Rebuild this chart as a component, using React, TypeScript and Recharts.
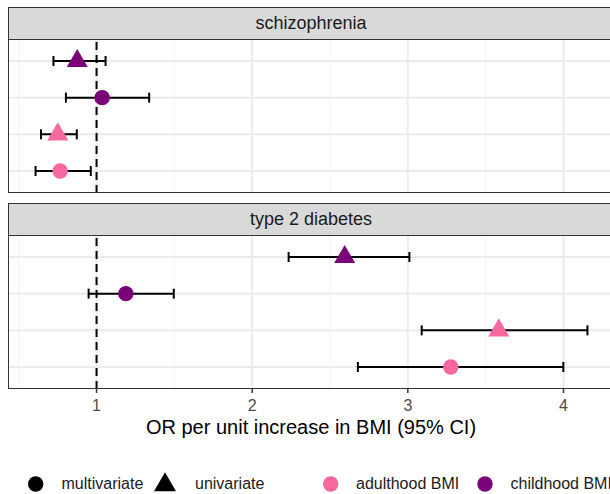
import React from 'react';
import { ScatterChart, Scatter, XAxis, YAxis, CartesianGrid, ReferenceLine, ErrorBar } from 'recharts';

// ---- data ----
const exposures = ['adulthood BMI', 'adulthood BMI', 'childhood BMI', 'childhood BMI'];
const methods = ['multivariate', 'univariate', 'multivariate', 'univariate'];

const schizoOR = [0.766, 0.751, 1.036, 0.876];
const schizoLo = [0.608, 0.643, 0.803, 0.723];
const schizoHi = [0.963, 0.873, 1.338, 1.058];

const t2dOR = [3.276, 3.584, 1.188, 2.594];
const t2dLo = [2.679, 3.089, 0.949, 2.234];
const t2dHi = [3.999, 4.154, 1.496, 3.010];

const panelTitles = ['schizophrenia', 'type 2 diabetes'];
const xTicks = [1, 2, 3, 4];
const xMinor = [0.5, 1.5, 2.5, 3.5, 4.5];
const rowTicks = [1, 2, 3, 4];
const shapeLegend = ['multivariate', 'univariate'];
const colourLegend = ['adulthood BMI', 'childhood BMI'];
const axisTitle = 'OR per unit increase in BMI (95% CI)';

// ---- style ----
const COLORS: Record<string, string> = { 'adulthood BMI': '#F768A1', 'childhood BMI': '#7A0177' };
const X_DOMAIN: [number, number] = [0.431, 4.331];
const Y_DOMAIN: [number, number] = [0.4, 4.6];
const FONT = '"Liberation Sans", Arial, Helvetica, sans-serif';
const PLOT_LEFT = 7.5;
const PLOT_W = 607;
const PLOT_H = 154;
const STRIP_H = 32;
const AXIS_H = 40;

function triPoints(cx: number, cy: number, side: number) {
  const h = (side * Math.sqrt(3)) / 2;
  return `${cx},${cy - (2 * h) / 3} ${cx - side / 2},${cy + h / 3} ${cx + side / 2},${cy + h / 3}`;
}

const Marker = (props: any) => {
  const { cx, cy, payload } = props;
  if (cx == null || cy == null) return <g />;
  const fill = COLORS[payload.exposure];
  if (payload.method === 'univariate') {
    return <polygon points={triPoints(cx, cy, 21)} fill={fill} />;
  }
  return <circle cx={cx} cy={cy} r={7.7} fill={fill} />;
};

const Empty = () => <g />;

function Panel({ title, top, or, lo, hi, showAxis }: any) {
  const data = or.map((v: number, i: number) => ({
    x: v,
    y: i + 1,
    err: [v - lo[i], hi[i] - v],
    exposure: exposures[i],
    method: methods[i],
  }));
  const axisH = showAxis ? AXIS_H : 0;
  return (
    <>
      <div
        style={{
          position: 'absolute',
          left: PLOT_LEFT,
          top,
          width: PLOT_W,
          height: STRIP_H + 1,
          background: '#D9D9D9',
          border: '1px solid #333',
          boxSizing: 'border-box',
          display: 'flex',
          alignItems: 'center',
          justifyContent: 'center',
          fontSize: 18,
          color: '#1A1A1A',
        }}
      >
        {title}
      </div>
      <div style={{ position: 'absolute', left: PLOT_LEFT, top: top + STRIP_H }}>
        <ScatterChart width={PLOT_W} height={PLOT_H + axisH} margin={{ top: 0, right: 0, bottom: 0, left: 0 }}>
          <CartesianGrid horizontal={false} verticalValues={xMinor} stroke="#F2F2F2" strokeWidth={1} />
          <CartesianGrid verticalValues={xTicks} horizontalValues={rowTicks} stroke="#EBEBEB" strokeWidth={2} />
          <XAxis
            type="number"
            dataKey="x"
            domain={X_DOMAIN}
            ticks={xTicks}
            allowDataOverflow
            hide={!showAxis}
            height={axisH}
            tickSize={4}
            tickMargin={7}
            axisLine={false}
            tickLine={{ stroke: '#333', strokeWidth: 1.5 }}
            tick={{ fill: '#4D4D4D', fontSize: 16, fontFamily: FONT }}
          />
          <YAxis type="number" dataKey="y" domain={Y_DOMAIN} hide width={0} />
          <ReferenceLine x={1} stroke="#000" strokeDasharray="8 5" strokeWidth={2} />
          <Scatter data={data} shape={Marker} isAnimationActive={false} />
          <Scatter data={data} shape={Empty} isAnimationActive={false}>
            <ErrorBar dataKey="err" direction="x" width={5} stroke="#000" strokeWidth={2} />
          </Scatter>
        </ScatterChart>
      </div>
      <div
        style={{
          position: 'absolute',
          left: PLOT_LEFT,
          top: top + STRIP_H,
          width: PLOT_W,
          height: PLOT_H,
          border: '1px solid #333',
          boxSizing: 'border-box',
          pointerEvents: 'none',
        }}
      />
    </>
  );
}

export default function App() {
  const legendText: React.CSSProperties = {
    position: 'absolute',
    top: 484 - 10,
    height: 20,
    lineHeight: '20px',
    fontSize: 16,
    color: '#1A1A1A',
    whiteSpace: 'nowrap',
  };
  return (
    <div
      style={{
        position: 'absolute',
        left: 0,
        top: 0,
        width: 610,
        height: 494,
        overflow: 'hidden',
        background: '#fff',
        fontFamily: FONT,
      }}
    >
      <Panel title={panelTitles[0]} top={7} or={schizoOR} lo={schizoLo} hi={schizoHi} showAxis={false} />
      <Panel title={panelTitles[1]} top={203} or={t2dOR} lo={t2dLo} hi={t2dHi} showAxis={true} />
      <div
        style={{
          position: 'absolute',
          left: PLOT_LEFT,
          width: PLOT_W,
          top: 416,
          textAlign: 'center',
          fontSize: 20,
          color: '#000',
          whiteSpace: 'nowrap',
        }}
      >
        {axisTitle}
      </div>
      <svg width={610} height={494} style={{ position: 'absolute', left: 0, top: 0, pointerEvents: 'none' }}>
        <circle cx={35.7} cy={484} r={7.7} fill="#000" />
        <polygon points={triPoints(165, 485, 22)} fill="#000" />
        <circle cx={330.7} cy={484} r={7.7} fill={COLORS[colourLegend[0]]} />
        <circle cx={485} cy={484} r={7.7} fill={COLORS[colourLegend[1]]} />
      </svg>
      <div style={{ ...legendText, left: 61.5 }}>{shapeLegend[0]}</div>
      <div style={{ ...legendText, left: 195 }}>{shapeLegend[1]}</div>
      <div style={{ ...legendText, left: 356 }}>{colourLegend[0]}</div>
      <div style={{ ...legendText, left: 510.5 }}>{colourLegend[1]}</div>
    </div>
  );
}
